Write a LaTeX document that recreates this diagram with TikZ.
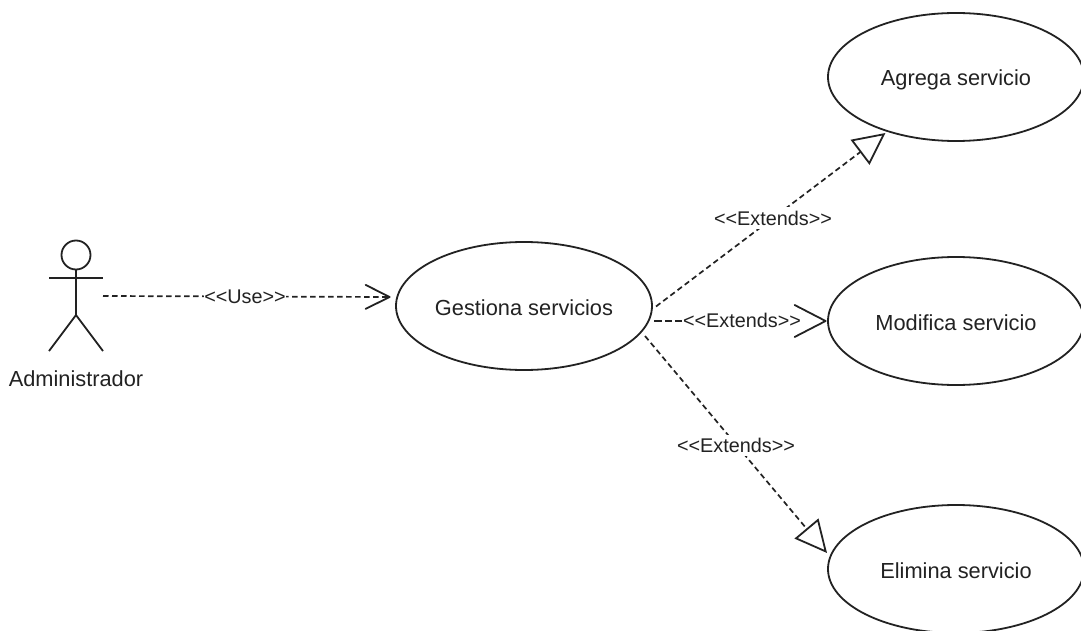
\documentclass[tikz,border=0pt]{standalone}
\usepackage{fontspec}
\setmainfont{Liberation Sans}
\usetikzlibrary{arrows.meta,shapes.geometric}
\definecolor{ink}{HTML}{222222}
\tikzset{
  usecase/.style={ellipse,draw=ink,line width=1.8pt,minimum width=256pt,minimum height=128pt,inner sep=0pt,font=\fontsize{21.8}{26}\selectfont,text=ink,fill=white,text height=21pt,text depth=3pt},
  limb/.style={draw=ink,line width=1.8pt},
  depline/.style={draw=ink,line width=1.7pt,dash pattern=on 5.5pt off 3.5pt},
  openshort/.style={-{Straight Barb[length=24pt,width=24pt,line width=1.8pt,round=false]}},
  openlong/.style={-{Straight Barb[length=31pt,width=32pt,line width=1.8pt,round=false]}},
  tritip/.style={-{Triangle[open,length=32pt,width=31pt,line width=1.8pt,fill=white]}},
  deplabel/.style={fill=white,inner xsep=0.5pt,inner ysep=3.5pt,text=ink,font=\fontsize{19.8}{24}\selectfont}
}
\begin{document}
\begin{tikzpicture}[x=1pt,y=-1pt]
\useasboundingbox (0,0) rectangle (1081,631);
\node[usecase] (ges) at (524,306) {Gestiona servicios};
\node[usecase] (agr) at (956,77) {Agrega servicio};
\node[usecase] (mod) at (956,321) {Modifica servicio};
\node[usecase] (eli) at (956,569) {Elimina servicio};
% actor
\node[circle,draw=ink,line width=1.8pt,minimum size=29pt,inner sep=0pt] (head) at (76,255) {};
\coordinate (hip) at (76,315);
\coordinate (armL) at (49,278);
\coordinate (armR) at (103,278);
\coordinate (legL) at (49,351);
\coordinate (legR) at (103,351);
\draw[limb] (head.south) -- (hip);
\draw[limb] (armL) -- (armR);
\draw[limb] (legL) -- (hip) -- (legR);
\node[text=ink,font=\fontsize{21.8}{26}\selectfont] (actor) at (76,379) {Administrador};
% connector ends
\coordinate (useStart) at (103,296);
\coordinate (useEnd) at (390.5,297);
\coordinate (s1) at (656,306.5);
\coordinate (e1) at (885.5,133);
\coordinate (s2) at (654,321);
\coordinate (e2) at (826.5,321);
\coordinate (s3) at (645,336);
\coordinate (e3) at (827,553);
\draw[depline,openshort] (useStart) -- (useEnd);
\draw[depline,tritip] (s1) -- (e1);
\draw[depline,openlong,dash pattern=on 8pt off 3pt on 7pt off 3pt on 7pt off 300pt] (s2) -- (e2);
\draw[depline,tritip] (s3) -- (e3);
\node[deplabel] (lu) at (245,297) {{<}{<}Use{>}{>}};
\node[deplabel] (l1) at (773,218) {{<}{<}Extends{>}{>}};
\node[deplabel] (l2) at (742,320) {{<}{<}Extends{>}{>}};
\node[deplabel] (l3) at (736,445.5) {{<}{<}Extends{>}{>}};
\end{tikzpicture}
\end{document}
